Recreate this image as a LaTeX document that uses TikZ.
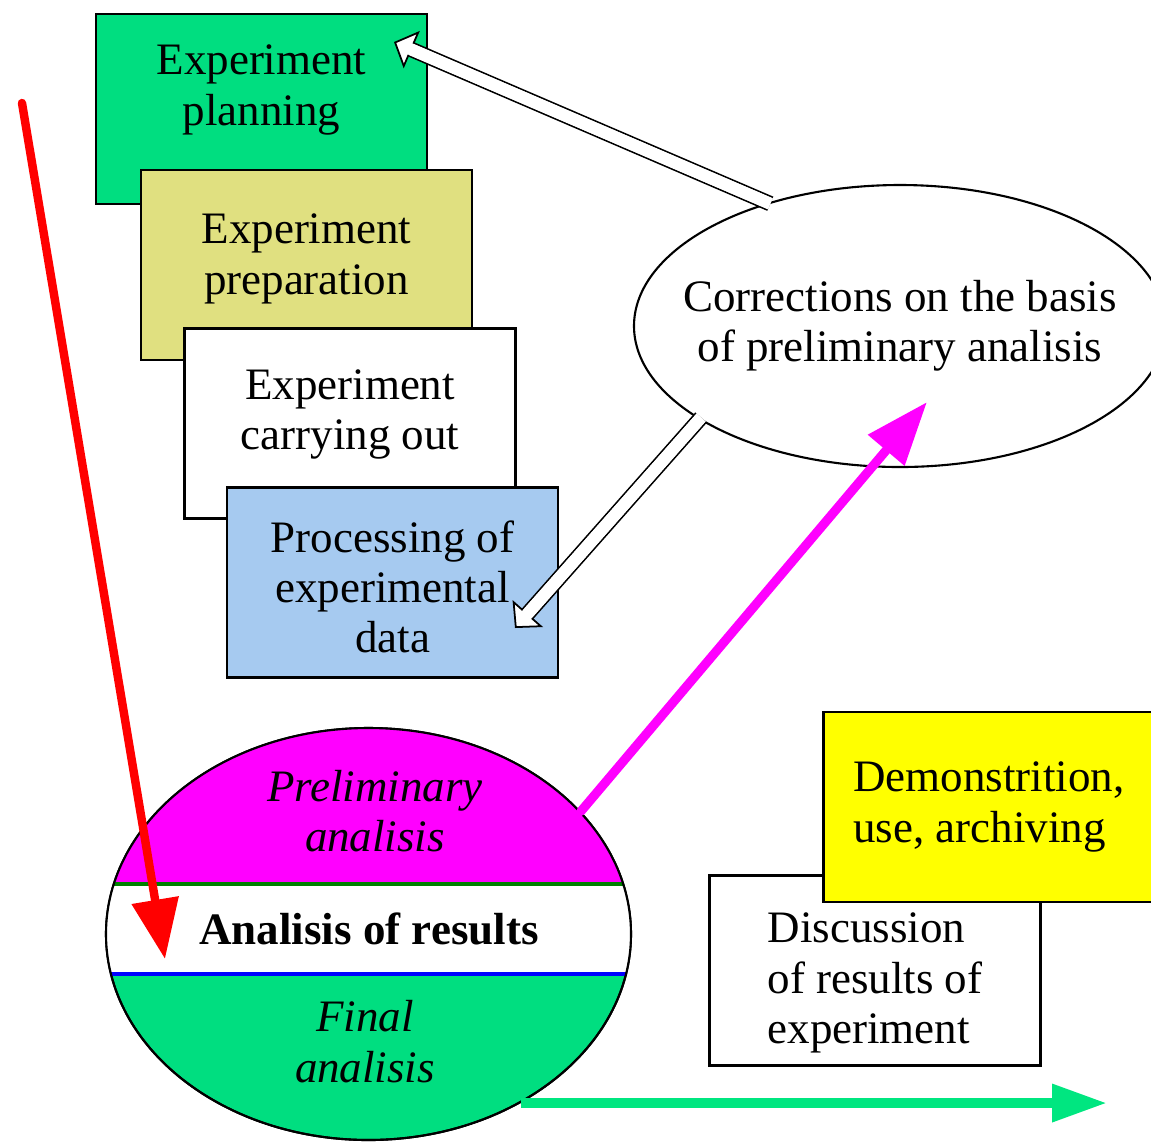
\documentclass[tikz,border=0pt]{standalone}
\usepackage{fontspec}
\setmainfont{Liberation Serif}
\usetikzlibrary{arrows.meta,shapes.geometric}

\definecolor{plangreen}{RGB}{0,222,128}
\definecolor{prepolive}{RGB}{224,224,128}
\definecolor{procblue}{RGB}{166,202,240}
\definecolor{arrowgreen}{RGB}{0,230,128}
\definecolor{bandgreen}{RGB}{0,128,0}
\definecolor{prelimpink}{RGB}{255,0,255}
\definecolor{demoyellow}{RGB}{255,255,0}
\definecolor{arrowred}{RGB}{255,0,0}
\definecolor{bandblue}{RGB}{0,0,255}

% struts that move a box text up (extra depth) or down (extra height)
\newcommand{\dropby}[1]{\rule[-#1]{0pt}{#1}}
\newcommand{\liftby}[1]{\rule{0pt}{#1}}

\begin{document}
\begin{tikzpicture}[every node/.style={font=\fontsize{12.8}{14.3}\selectfont},
	stage/.style={draw, line width=0.6pt, minimum width=3.31cm, minimum height=1.90cm, inner sep=0pt, align=center},
	bubble/.style={ellipse, draw, line width=0.6pt, inner sep=0pt},
	hollow/.style={line width=0.5pt, double=white, double distance=3.4pt, shorten <=-0.8pt, -{Triangle[open, fill=white, length=5.5pt, width=11.5pt]}},
	hollowgap/.style={draw=white, line width=3.4pt, shorten <=-0.8pt, shorten >=2.8pt},
	flow/.style={line width=2.4pt, line cap=round}]
	\useasboundingbox (0,0) rectangle (11.51,-11.42);
	% stages of the experiment
	\node[stage, fill=plangreen] (plan) at (2.615,-1.09) {Experiment\\planning\dropby{0.48cm}};
	\node[stage, fill=prepolive] (prep) at (3.065,-2.65) {Experiment\\preparation\dropby{0.22cm}};
	\node[stage, fill=white] (carry) at (3.50,-4.235) {Experiment\\carrying out\dropby{0.28cm}};
	\node[stage, fill=procblue] (proc) at (3.925,-5.825) {\liftby{0.4cm}Processing of\\experimental\\data};
	% corrections
	\node[bubble, fill=white, minimum width=5.32cm, minimum height=2.82cm, inner xsep=-0.5cm, align=center] (corr) at (9.0,-3.26) {Corrections on the basis\\of preliminary analisis};
	\coordinate (plantip) at (3.94,-0.42);
	\coordinate (proctip) at (5.15,-6.28);
	\draw[hollow] (corr.137) -- (plantip);
	\draw[hollowgap] (corr.137) -- (plantip);
	\draw[hollow] (corr.205) -- (proctip);
	\draw[hollowgap] (corr.205) -- (proctip);
	% analysis of results
	\node[bubble, fill=plangreen, minimum width=5.25cm, minimum height=4.12cm] (res) at (3.685,-9.34) {};
	\begin{scope}
		\clip (res.center) ellipse (2.625cm and 2.06cm);
		\fill[prelimpink] (0.5,-6.5) rectangle (7,-8.84);
		\fill[white] (0.5,-8.84) rectangle (7,-9.74);
		\draw[bandgreen, line width=1pt] (0.5,-8.84) -- (7,-8.84);
		\draw[bandblue, line width=1.1pt] (0.5,-9.74) -- (7,-9.74);
	\end{scope}
	\draw[line width=0.6pt] (res.center) ellipse (2.625cm and 2.06cm);
	\node[font=\fontsize{12.8}{14.3}\selectfont\bfseries] (restxt) at (3.69,-9.29) {Analisis of results};
	\node[font=\fontsize{12.8}{14.3}\selectfont\itshape, align=center] (prelim) at (3.75,-8.11) {Preliminary\\analisis};
	\node[font=\fontsize{12.8}{14.3}\selectfont\itshape, align=center] (final) at (3.65,-10.415) {Final\\analisis};
	% after the analysis
	\node[stage, fill=white, align=left] (disc) at (8.75,-9.705) {\liftby{0.55cm}Discussion\\of results of\\experiment};
	\node[stage, fill=demoyellow, align=left] (demo) at (9.89,-8.07) {Demonstrition,\\use, archiving};
	% flow arrows
	\coordinate (redtail) at (0.22,-1.03);
	\coordinate (redtip) at (1.65,-9.59);
	\coordinate (corrin) at (9.27,-4.02);
	\coordinate (greentip) at (11.07,-11.02);
	\draw[flow, arrowred, -{Triangle[length=17pt, width=13pt]}] (redtail) -- (redtip);
	\draw[flow, prelimpink, line width=2.6pt, -{Triangle[length=18pt, width=13pt]}] (res.30.6) -- (corrin);
	\draw[flow, arrowgreen, line width=2.8pt, line cap=butt, -{Triangle[length=15.6pt, width=10.2pt]}] (res.-48) -- (res.-48 -| greentip);
\end{tikzpicture}
\end{document}
